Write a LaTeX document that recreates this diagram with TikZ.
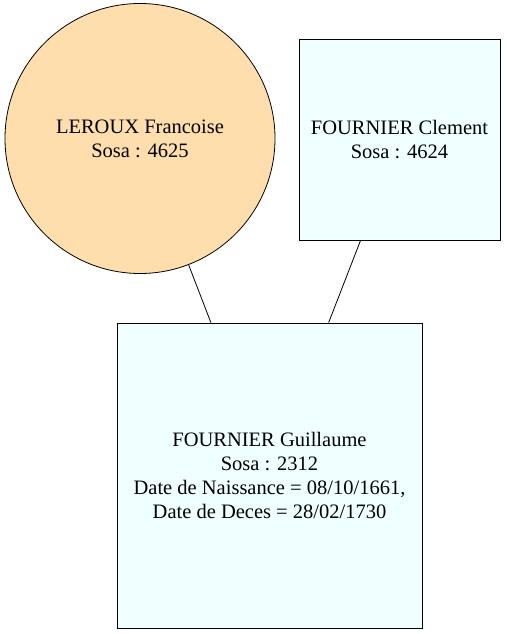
\documentclass[tikz,border=0pt]{standalone}
\usepackage{fontspec}
\setmainfont{Liberation Serif}
\definecolor{womancolor}{HTML}{FFDEAD}
\definecolor{mancolor}{HTML}{F0FFFF}
\tikzstyle{woman} = [circle, minimum size=270pt, inner sep=0pt, align=center, fill=womancolor, draw=black, line width=0.8pt]
\tikzstyle{man} = [rectangle, inner sep=0pt, align=center, fill=mancolor, draw=black, line width=0.8pt]
\tikzstyle{link} = [line width=0.8pt]

\begin{document}
\begin{tikzpicture}[x=1pt, y=-1pt, font=\fontsize{20.5}{24}\selectfont]
  \useasboundingbox (0,0) rectangle (506,634);
  \node (LEROUX Francoise) [woman] at (140,138.5) {LEROUX Francoise\\Sosa : 4625};
  \node (FOURNIER Clement) [man, minimum width=201pt, minimum height=201pt] at (399.5,139.5) {FOURNIER Clement\\Sosa : 4624};
  \node (FOURNIER Guillaume) [man, minimum width=305pt, minimum height=305pt] at (269.5,475.5) {FOURNIER Guillaume\\Sosa : 2312\\Date de Naissance = 08/10/1661,\\Date de Deces = 28/02/1730};

  \draw [link] (LEROUX Francoise) -- (FOURNIER Guillaume);
  \draw [link] (FOURNIER Clement) -- (FOURNIER Guillaume);
\end{tikzpicture}
\end{document}
